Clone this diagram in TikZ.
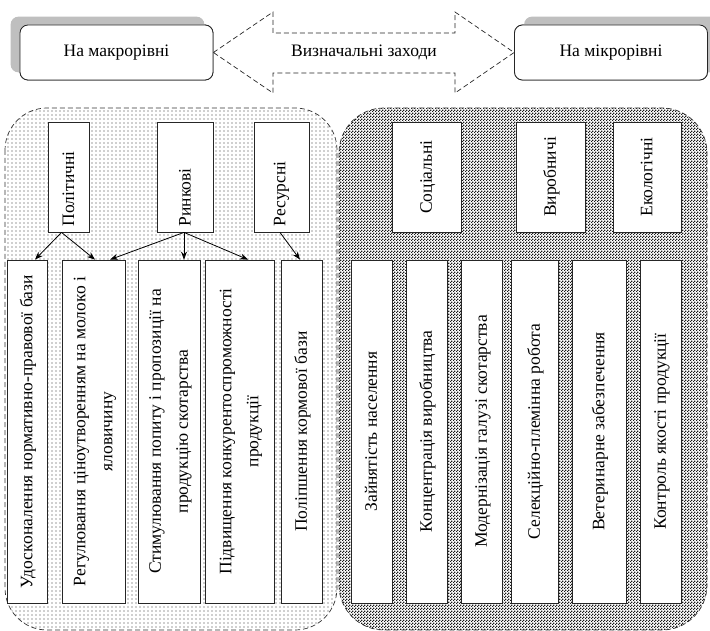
\documentclass[tikz,border=0pt]{standalone}
\usepackage{fontspec}
\setmainfont{Liberation Serif}
\usetikzlibrary{patterns,arrows.meta,calc}
\pgfdeclarepatternformonly{sparsedots}{\pgfqpoint{-1pt}{-1pt}}{\pgfqpoint{1pt}{1pt}}{\pgfqpoint{4pt}{4pt}}{%
  \pgfpathcircle{\pgfqpoint{0pt}{0pt}}{0.65pt}\pgfusepath{fill}}
\pgfdeclarepatternformonly{checker}{\pgfqpoint{0pt}{0pt}}{\pgfqpoint{3pt}{3pt}}{\pgfqpoint{3pt}{3pt}}{%
  \pgfpathrectangle{\pgfqpoint{0pt}{0pt}}{\pgfqpoint{1.5pt}{1.5pt}}%
  \pgfpathrectangle{\pgfqpoint{1.5pt}{1.5pt}}{\pgfqpoint{1.5pt}{1.5pt}}\pgfusepath{fill}}
\tikzset{
  lvlbox/.style={draw=black!85, line width=0.8pt, rounded corners=8pt, fill=white,
    minimum width=193pt, minimum height=55pt, inner sep=0pt},
  shade/.style={fill=black!25, draw=none},
  catbox/.style={draw=black!85, line width=0.8pt, fill=white, minimum height=110pt, inner sep=0pt},
  itembox/.style={draw=black!85, line width=0.8pt, fill=white, minimum height=343pt, inner sep=0pt},
  vtext/.style={rotate=90, inner sep=0pt},
  conn/.style={line width=0.8pt, -{Stealth[length=8pt,width=6pt]}},
  dashline/.style={dashed, line width=0.7pt, dash pattern=on 5pt off 3pt},
}
\newcommand{\vt}[1]{\rotatebox{90}{\begin{tabular}{@{}c@{}}#1\end{tabular}}}
\begin{document}
\begin{tikzpicture}[x=1pt, y=-1pt, font=\fontsize{17.5}{27}\selectfont]
\useasboundingbox (0,0) rectangle (710,631);
% regions
\path[dashline, draw=black!80, rounded corners=42pt, fill=white, pattern=sparsedots, pattern color=black!80] (5,108) rectangle (337,630);
\path[fill=white, rounded corners=45pt] (339,108) rectangle (707,630);
\path[dashline, draw=black!80, rounded corners=45pt, pattern=checker, pattern color=black!90] (339,108) rectangle (707,630);
% top level boxes
\node[lvlbox] (macro) at (116.5,52.5) {};
\fill[shade, rounded corners=8pt] ([shift={(-9pt,8pt)}]macro.south west) rectangle ([shift={(-9pt,8pt)}]macro.north east);
\node[lvlbox] (macrob) at (116.5,52.5) {На макрорівні};
\node[lvlbox] (micro) at (611,52.5) {};
\fill[shade, rounded corners=8pt] ([shift={(10pt,8pt)}]micro.south west) rectangle ([shift={(10pt,8pt)}]micro.north east);
\node[lvlbox] (microb) at (611,52.5) {На мікрорівні};
% double arrow
\draw[dashline, draw=black!85] (macrob.east) -- (273,12) -- (273,33) -- (455,33) -- (455,12) -- (microb.west)
  -- (455,93) -- (455,73) -- (273,73) -- (273,93) -- cycle;
\node (mid) at (364,52.5) {Визначальні заходи};
% category boxes
\node[catbox, minimum width=41pt] (pol) at (68.5,177) {};
\node[vtext, anchor=west] (polt) at ([yshift=6pt]pol.south) {Політичні};
\node[catbox, minimum width=56pt] (rin) at (185,177) {};
\node[vtext, anchor=west] (rint) at ([yshift=6pt]rin.south) {Ринкові};
\node[catbox, minimum width=55pt] (res) at (281.5,177) {};
\node[vtext, anchor=west] (rest) at ([yshift=6pt]res.south) {Ресурсні};
\node[catbox, minimum width=69pt] (soc) at (426.5,177) {\vt{Соціальні}};
\node[catbox, minimum width=69pt] (vyr) at (550.5,177) {\vt{Виробничі}};
\node[catbox, minimum width=68pt] (eko) at (647,177) {\vt{Екологічні}};
% item boxes
\node[itembox, minimum width=40pt] (l1) at (27,431.5) {\vt{Удосконалення нормативно-правової бази}};
\node[itembox, minimum width=63pt] (l2) at (93.5,431.5) {\vt{Регулювання ціноутворенням на молоко і\\яловичину}};
\node[itembox, minimum width=62pt] (l3) at (169,431.5) {\vt{Стимулювання попиту і пропозиції на\\продукцію скотарства}};
\node[itembox, minimum width=69pt] (l4) at (239.5,431.5) {\vt{Підвищення конкурентоспроможності\\продукції}};
\node[itembox, minimum width=41pt] (l5) at (301.5,431.5) {\vt{Поліпшення кормової бази}};
\node[itembox, minimum width=41pt] (r1) at (371.5,431.5) {\vt{Зайнятість населення}};
\node[itembox, minimum width=41pt] (r2) at (426.5,431.5) {\vt{Концентрація виробництва}};
\node[itembox, minimum width=41pt] (r3) at (481.5,431.5) {\vt{Модернізація галузі скотарства}};
\node[itembox, minimum width=47pt] (r4) at (534.5,431.5) {\vt{Селекційно-племінна робота}};
\node[itembox, minimum width=54pt] (r5) at (599,431.5) {\vt{Ветеринарне забезпечення}};
\node[itembox, minimum width=41pt] (r6) at (660.5,431.5) {\vt{Контроль якості продукції}};
% connectors
\draw[conn] ([xshift=-7pt]pol.south) -- ([xshift=8pt]l1.north);
\draw[conn] ([xshift=-7pt]pol.south) -- ([xshift=1.5pt]l2.north);
\draw[conn] ([xshift=-1pt]rin.south) -- ([xshift=16.5pt]l2.north);
\draw[conn] ([xshift=-1pt]rin.south) -- ([xshift=15pt]l3.north);
\draw[conn] ([xshift=-1pt]rin.south) -- ([xshift=8.5pt]l4.north);
\draw[conn] ([xshift=-1.5pt]res.south) -- ([xshift=-1.5pt]l5.north);
\end{tikzpicture}
\end{document}
